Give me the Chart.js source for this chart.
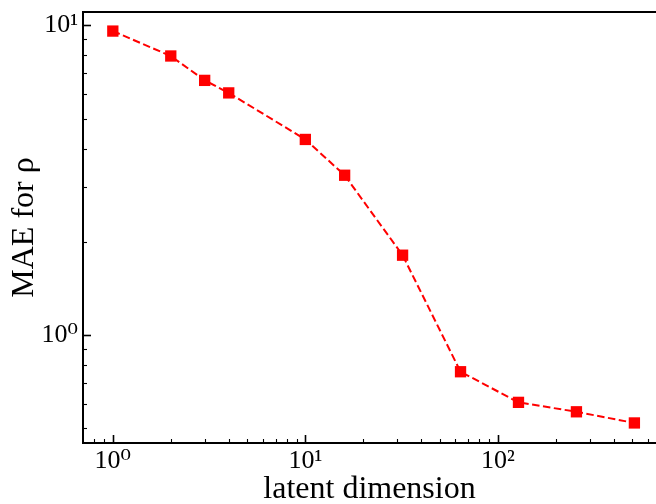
<!DOCTYPE html>
<html>
<head>
<meta charset="utf-8">
<script src="https://cdn.jsdelivr.net/npm/chart.js@4/dist/chart.umd.min.js"></script>
<style>
html,body{margin:0;padding:0;background:#fff;}
#wrap{width:656px;height:504px;}
</style>
</head>
<body>
<div id="wrap"><canvas id="c" width="656" height="504"></canvas></div>
<script>
// Data
const latentDims = [1, 2, 3, 4, 10, 16, 32, 64, 128, 256, 512];
const maeRho = [9.58, 7.96, 6.64, 6.05, 4.28, 3.28, 1.81, 0.761, 0.606, 0.565, 0.520];
const xMajorTicks = [1, 10, 100];
const yMajorTicks = [1, 10];
const xTickLabels = ['10\u2070', '10\u00B9', '10\u00B2'];
const yTickLabels = ['10\u2070', '10\u00B9'];
const xTitle = 'latent dimension';
const yTitle = 'MAE for \u03C1';

const FONT = "'Liberation Serif', 'DejaVu Serif', serif";

function logTicks(min, max) {
  const out = [];
  const e0 = Math.floor(Math.log10(min)), e1 = Math.ceil(Math.log10(max));
  for (let e = e0; e <= e1; e++) {
    for (let m = 1; m <= 9; m++) {
      const v = m * Math.pow(10, e);
      if (v >= min * 0.9999 && v <= max * 1.0001) out.push({value: +v.toPrecision(6), major: m === 1});
    }
  }
  return out;
}

const X_MIN = 0.725, X_MAX = 663;
const Y_MIN = 0.448, Y_MAX = 11.04;

const points = latentDims.map((d, i) => ({x: d, y: maeRho[i]}));

const frame = {
  id: 'frame',
  afterDatasetsDraw(chart) {
    const ctx = chart.ctx;
    const a = chart.chartArea;
    const xs = chart.scales.x, ys = chart.scales.y;
    ctx.save();
    ctx.strokeStyle = '#000';
    xs.ticks.forEach(t => {
      const px = Math.round(xs.getPixelForValue(t.value)) + 0.5;
      const len = t.major ? 8 : 4;
      ctx.lineWidth = t.major ? 1.6 : 1.1;
      ctx.beginPath();
      ctx.moveTo(px, a.bottom);
      ctx.lineTo(px, a.bottom - len);
      ctx.stroke();
    });
    ys.ticks.forEach(t => {
      const py = Math.round(ys.getPixelForValue(t.value)) + 0.5;
      const len = t.major ? 8 : 4;
      ctx.lineWidth = t.major ? 1.6 : 1.1;
      ctx.beginPath();
      ctx.moveTo(a.left, py);
      ctx.lineTo(a.left + len, py);
      ctx.stroke();
    });
    ctx.lineWidth = 2;
    ctx.beginPath();
    ctx.moveTo(a.left - 1, a.top);
    ctx.lineTo(a.right, a.top);
    ctx.stroke();
    ctx.restore();
  }
};

new Chart(document.getElementById('c'), {
  type: 'scatter',
  data: {
    datasets: [{
      data: points,
      showLine: true,
      borderColor: '#ff0000',
      backgroundColor: '#ff0000',
      borderWidth: 2,
      borderDash: [7.5, 3.5],
      pointStyle: 'rect',
      pointRadius: 8,
      pointBorderWidth: 0,
      pointBackgroundColor: '#ff0000',
      tension: 0,
      clip: false
    }]
  },
  options: {
    responsive: false,
    animation: false,
    devicePixelRatio: 1,
    layout: {autoPadding: false, padding: {top: 12, right: 0, left: 0, bottom: 0}},
    plugins: {legend: {display: false}, tooltip: {enabled: false}},
    scales: {
      x: {
        type: 'logarithmic',
        position: 'bottom',
        min: X_MIN,
        max: X_MAX,
        afterBuildTicks(s) { s.ticks = logTicks(X_MIN, X_MAX); },
        afterFit(s) { s.height = 61; s.paddingLeft = 0; s.paddingRight = 0; },
        grid: {display: false, drawTicks: false},
        border: {display: true, color: '#000', width: 2},
        ticks: {
          autoSkip: false, maxRotation: 0, minRotation: 0, padding: 3,
          color: '#000',
          font: {family: FONT, size: 26},
          callback(v) { const i = xMajorTicks.indexOf(+(+v).toPrecision(6)); return i >= 0 ? xTickLabels[i] : ''; }
        },
        title: {display: true, text: xTitle, color: '#000', font: {family: FONT, size: 32, lineHeight: 1}, padding: {top: 0, bottom: -2}}
      },
      y: {
        type: 'logarithmic',
        position: 'left',
        min: Y_MIN,
        max: Y_MAX,
        afterBuildTicks(s) { s.ticks = logTicks(Y_MIN, Y_MAX); },
        afterFit(s) { s.width = 83; s.paddingTop = 0; s.paddingBottom = 0; },
        grid: {display: false, drawTicks: false},
        border: {display: true, color: '#000', width: 2},
        ticks: {
          autoSkip: false, padding: 5,
          color: '#000',
          font: {family: FONT, size: 26},
          callback(v) { const i = yMajorTicks.indexOf(+(+v).toPrecision(6)); return i >= 0 ? yTickLabels[i] : ''; }
        },
        title: {display: true, text: yTitle, color: '#000', font: {family: FONT, size: 32, lineHeight: 1}, padding: {top: 9, bottom: 0}}
      }
    }
  },
  plugins: [frame]
});
</script>
</body>
</html>
